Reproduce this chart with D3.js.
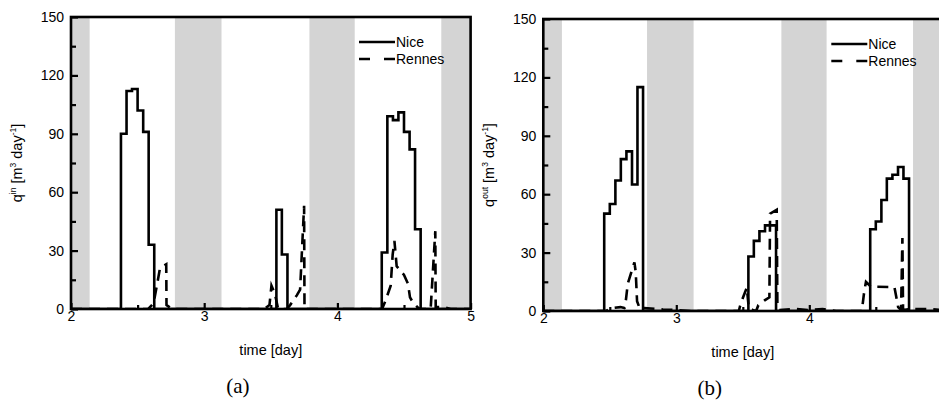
<!DOCTYPE html>
<html><head><meta charset="utf-8">
<script src="https://cdn.jsdelivr.net/npm/d3@7/dist/d3.min.js"></script>
<style>
body{margin:0;background:#fff}
svg{display:block}
text{font-family:"Liberation Sans",Arial,sans-serif;fill:#000}
</style>
</head><body>
<svg id="c" width="939" height="403"></svg>
<script>
// ---- data ----
const nightBands = [[2.0, 2.14], [2.78, 3.13], [3.79, 4.13], [4.78, 5.0]];
const yTicks = [0, 30, 60, 90, 120, 150];
const yMinorTicks = [15, 45, 75, 105, 135];
const xTicks = [2, 3, 4, 5];
const xMinorTicks = [2.5, 3.5, 4.5];
const seriesNames = ["Nice", "Rennes"];
const panelLetters = ["(a)", "(b)"];
const ySuperscripts = ["in", "out"];

// Nice inflow (step after)
const niceIn = [
  [2.0, 0], [2.375, 90], [2.417, 112], [2.458, 113], [2.5, 102], [2.542, 91], [2.583, 33], [2.625, 0],
  [3.542, 51], [3.583, 28], [3.625, 0],
  [4.333, 29], [4.375, 99], [4.417, 97], [4.458, 101], [4.5, 91], [4.542, 82], [4.583, 41], [4.625, 0],
  [5.0, 0]
];
// Rennes inflow (linear)
const rennesIn = [
  [2.0, 0], [2.58, 0], [2.62, 3], [2.65, 14], [2.668, 21], [2.715, 23], [2.717, 2], [2.76, 0],
  [3.45, 0], [3.49, 2], [3.505, 12], [3.53, 8], [3.555, 0],
  [3.62, 0], [3.645, 2], [3.695, 7], [3.72, 10], [3.75, 53], [3.753, 0],
  [4.335, 0], [4.36, 4], [4.40, 12], [4.415, 28], [4.428, 35], [4.445, 22], [4.5, 17.5], [4.53, 13],
  [4.545, 6], [4.57, 3], [4.6, 1], [4.62, 0],
  [4.70, 0], [4.735, 40], [4.738, 1], [4.80, 1], [4.85, 0], [5.0, 0]
];
// Nice outflow (step after)
const niceOut = [
  [2.0, 0], [2.458, 50], [2.5, 55], [2.542, 67], [2.583, 78], [2.625, 82], [2.667, 65], [2.708, 115], [2.75, 0],
  [3.542, 28], [3.583, 36], [3.625, 41], [3.667, 44], [3.708, 44], [3.75, 0],
  [4.458, 42], [4.5, 46], [4.542, 57], [4.583, 68], [4.625, 70], [4.667, 74], [4.708, 68], [4.75, 0],
  [5.0, 0]
];
// Rennes outflow (linear)
const rennesOut = [
  [2.0, 0], [2.47, 0], [2.52, 1.5], [2.58, 2], [2.61, 1.5], [2.615, 2], [2.635, 14], [2.685, 25],
  [2.695, 20], [2.705, 5], [2.727, 1], [2.76, 1.5], [2.9, 0.8], [3.0, 0.5], [3.1, 0],
  [3.47, 0], [3.485, 4], [3.53, 12], [3.545, 1.5], [3.575, 0.5], [3.60, 0],
  [3.617, 3], [3.667, 5.6], [3.70, 7], [3.705, 50], [3.755, 52], [3.76, 3], [3.775, 0.5],
  [3.9, 1], [4.0, 0.5], [4.1, 1], [4.2, 0],
  [4.395, 0], [4.413, 10], [4.426, 15], [4.463, 12.5], [4.64, 12.3], [4.652, 8], [4.668, 2],
  [4.69, 0.5], [4.70, 37.5], [4.705, 0.5], [4.75, 1], [4.9, 1], [5.0, 0.5]
];

// ---- layout ----
const panels = [
  {x0: 71, x1: 470.6, yTop: 17, yBot: 309, nice: niceIn, rennes: rennesIn, sup: ySuperscripts[0], letter: panelLetters[0]},
  {x0: 543.3, x1: 942.3, yTop: 19, yBot: 311, nice: niceOut, rennes: rennesOut, sup: ySuperscripts[1], letter: panelLetters[1]}
];

const svg = d3.select("#c");
const dash = "11,7";

panels.forEach((p, i) => {
  const g = svg.append("g");
  const x = d3.scaleLinear().domain([2, 5]).range([p.x0, p.x1]);
  const y = d3.scaleLinear().domain([0, 150]).range([p.yBot, p.yTop]);

  // night bands
  g.selectAll("rect.band").data(nightBands).enter().append("rect")
    .attr("x", d => x(d[0])).attr("width", d => x(d[1]) - x(d[0]))
    .attr("y", p.yTop).attr("height", p.yBot - p.yTop)
    .attr("fill", "#d4d4d4");

  // lines
  const clipId = "clip" + i;
  g.append("clipPath").attr("id", clipId).append("rect")
    .attr("x", p.x0).attr("y", p.yTop - 2).attr("width", p.x1 - p.x0).attr("height", p.yBot - p.yTop + 2);

  const lineStep = d3.line().x(d => x(d[0])).y(d => y(d[1])).curve(d3.curveStepAfter);
  const lineLin = d3.line().x(d => x(d[0])).y(d => y(d[1]));

  g.append("path").datum(p.rennes).attr("d", lineLin)
    .attr("fill", "none").attr("stroke", "#000").attr("stroke-width", 2.6)
    .attr("stroke-dasharray", dash).attr("clip-path", `url(#${clipId})`);
  g.append("path").datum(p.nice).attr("d", lineStep)
    .attr("fill", "none").attr("stroke", "#000").attr("stroke-width", 2.6)
    .attr("stroke-linejoin", "miter").attr("clip-path", `url(#${clipId})`);

  // axes
  const yAxis = d3.axisLeft(y).tickValues(yTicks).tickSize(-7).tickPadding(7).tickFormat(d3.format("d"));
  const ya = g.append("g").attr("transform", `translate(${p.x0},0)`).call(yAxis);
  const yMinor = d3.axisLeft(y).tickValues(yMinorTicks).tickSize(-5).tickFormat("");
  const ym = g.append("g").attr("transform", `translate(${p.x0},0)`).call(yMinor);

  const xAxis = d3.axisBottom(x).tickValues(xTicks).tickSize(-6).tickPadding(2).tickFormat(d3.format("d"));
  const xa = g.append("g").attr("transform", `translate(0,${p.yBot})`).call(xAxis);
  const xMinor = d3.axisBottom(x).tickValues(xMinorTicks).tickSize(-4).tickFormat("");
  const xm = g.append("g").attr("transform", `translate(0,${p.yBot})`).call(xMinor);

  [ya, ym, xa, xm].forEach(a => {
    a.select(".domain").remove();
    a.selectAll("line").attr("stroke", "#000").attr("stroke-width", 2.2);
    a.selectAll("text").style("font-size", "14px").attr("font-family", null);
  });

  // frame
  g.append("rect").attr("x", p.x0).attr("y", p.yTop)
    .attr("width", p.x1 - p.x0).attr("height", p.yBot - p.yTop)
    .attr("fill", "none").attr("stroke", "#000").attr("stroke-width", 2.6);

  // legend
  const lx = p.x0 + 288, ly = p.yTop + 25;
  seriesNames.forEach((name, k) => {
    const yy = ly + k * 17;
    g.append("line").attr("x1", lx).attr("x2", lx + 36).attr("y1", yy).attr("y2", yy)
      .attr("stroke", "#000").attr("stroke-width", 2.6)
      .attr("stroke-dasharray", k === 1 ? "11,14" : null);
    g.append("text").attr("x", lx + 37).attr("y", yy).attr("dy", "0.35em")
      .style("font-size", "14px").text(name);
  });

  // axis labels
  const xc = (p.x0 + x(5)) / 2;
  g.append("text").attr("x", x(3.5)).attr("y", p.yBot + 46).attr("text-anchor", "middle")
    .style("font-size", "14.5px").text("time [day]");

  const yl = g.append("text")
    .attr("transform", `translate(${p.x0 - 49},${(p.yTop + p.yBot) / 2}) rotate(-90)`)
    .attr("text-anchor", "middle").style("font-size", "14.5px");
  yl.append("tspan").text("q");
  yl.append("tspan").attr("dy", -6).style("font-size", "8.5px").text(p.sup);
  yl.append("tspan").attr("dy", 6).text(" [m");
  yl.append("tspan").attr("dy", -6).style("font-size", "8.5px").text("3");
  yl.append("tspan").attr("dy", 6).text(" day");
  yl.append("tspan").attr("dy", -6).style("font-size", "8.5px").text("-1");
  yl.append("tspan").attr("dy", 6).text("]");

  // panel letter
  g.append("text").attr("x", x(3.5) - 33).attr("y", p.yBot + 84).attr("text-anchor", "middle")
    .style("font-family", "'Liberation Serif','DejaVu Serif',serif").style("font-size", "21px")
    .text(p.letter);
});
</script>
</body></html>
